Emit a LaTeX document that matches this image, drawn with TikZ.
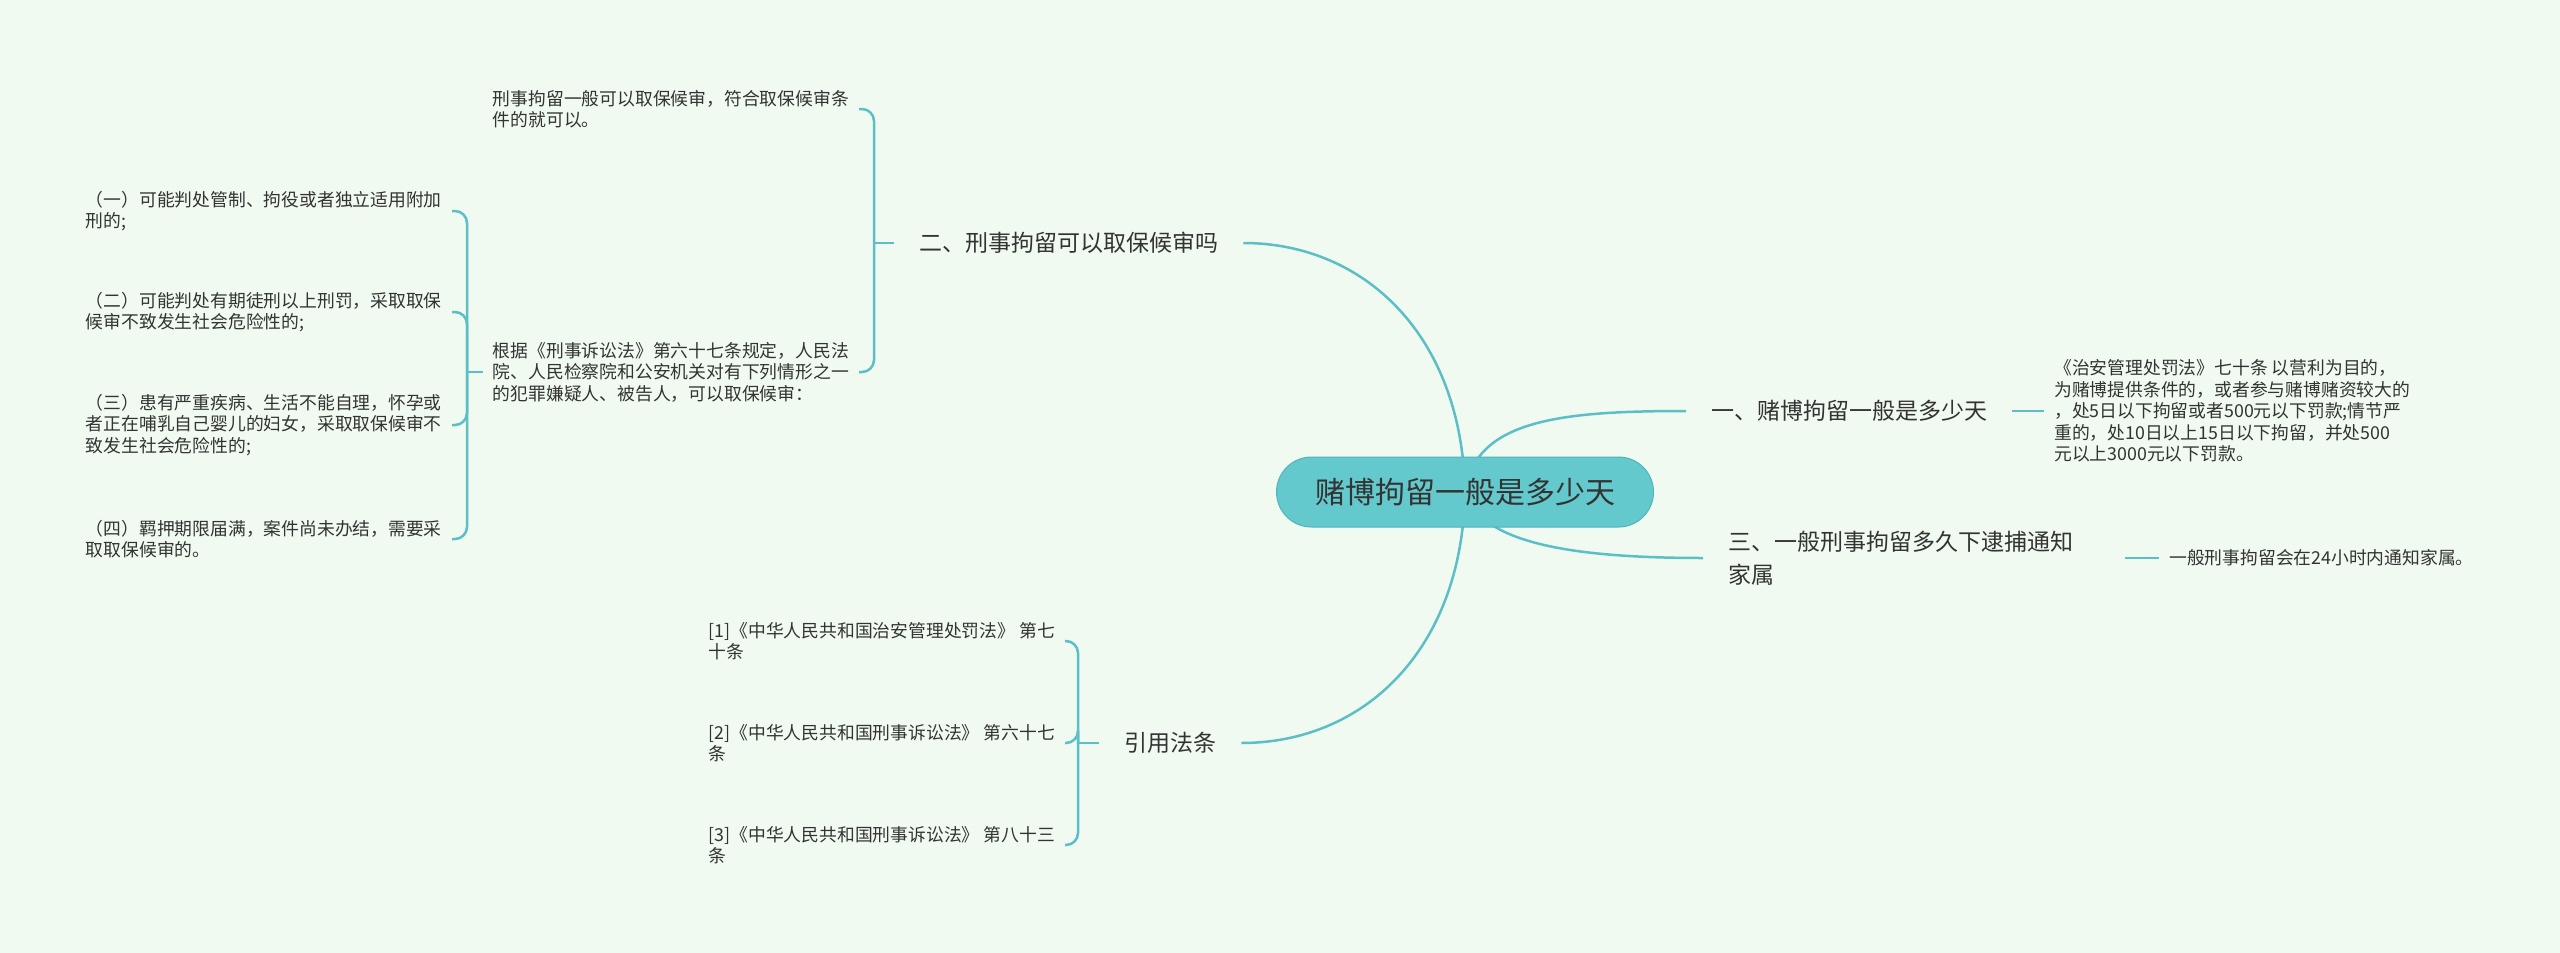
\documentclass[tikz,border=0pt]{standalone}
\usepackage{fontspec}
\setmainfont{Noto Sans CJK SC}
\definecolor{bgcol}{HTML}{F0FAF1}
\definecolor{linecol}{HTML}{5CBFC6}
\definecolor{rootfill}{HTML}{63C9CD}
\definecolor{rootdraw}{HTML}{50B5BA}
\definecolor{txtcol}{HTML}{333333}
\tikzset{
  rootnode/.style={fill=rootfill, draw=rootdraw, line width=1pt, rounded corners=35pt,
    minimum width=377pt, minimum height=70pt, font=\fontsize{30}{36}\selectfont, text=txtcol},
  topic/.style={inner xsep=25pt, inner ysep=4pt, font=\fontsize{23}{33}\selectfont, text=txtcol, align=left},
  leaf/.style={inner xsep=10pt, inner ysep=3pt, font=\fontsize{17.8}{21.5}\selectfont, text=txtcol, align=left},
  link/.style={draw=linecol, line width=2.5pt},
  bracket/.style={link, rounded corners=12pt},
}
\begin{document}
\begin{tikzpicture}[x=1pt, y=-1pt]
    \fill[bgcol] (0,0) rectangle (2560,953);
    \useasboundingbox (0,0) rectangle (2560,953);
    \coordinate (rootc) at (1465,492);
    % main topics
    \node[topic, anchor=west] (b2) at (894,243) {二、刑事拘留可以取保候审吗};
    \node[topic, anchor=west] (b1) at (1686,411) {一、赌博拘留一般是多少天};
    \node[topic, anchor=west, text width=372pt] (b3) at (1703,558) {三、一般刑事拘留多久下逮捕通知\\家属};
    \node[topic, anchor=west] (b4) at (1099,743) {引用法条};
    % leaves of topic one and three
    \node[leaf, anchor=west] (b1c) at (2044,411) {《治安管理处罚法》七十条 以营利为目的，\\为赌博提供条件的，或者参与赌博赌资较大的\\，处5日以下拘留或者500元以下罚款;情节严\\重的，处10日以上15日以下拘留，并处500\\元以上3000元以下罚款。};
    \node[leaf, anchor=west] (b3c) at (2159,558) {一般刑事拘留会在24小时内通知家属。};
    % leaves of topic two
    \node[leaf, anchor=east] (b2a) at (859,109) {刑事拘留一般可以取保候审，符合取保候审条\\件的就可以。};
    \node[leaf, anchor=east] (b2b) at (859,372) {根据《刑事诉讼法》第六十七条规定，人民法\\院、人民检察院和公安机关对有下列情形之一\\的犯罪嫌疑人、被告人，可以取保候审：};
    \node[leaf, anchor=east] (b2b1) at (452,211) {（一）可能判处管制、拘役或者独立适用附加\\刑的;};
    \node[leaf, anchor=east] (b2b2) at (452,312) {（二）可能判处有期徒刑以上刑罚，采取取保\\候审不致发生社会危险性的;};
    \node[leaf, anchor=east] (b2b3) at (452,425) {（三）患有严重疾病、生活不能自理，怀孕或\\者正在哺乳自己婴儿的妇女，采取取保候审不\\致发生社会危险性的;};
    \node[leaf, anchor=east] (b2b4) at (452,539) {（四）羁押期限届满，案件尚未办结，需要采\\取取保候审的。};
    % cited laws
    \node[leaf, anchor=east] (b4a) at (1065,641) {[1]《中华人民共和国治安管理处罚法》 第七\\十条};
    \node[leaf, anchor=east] (b4b) at (1065,743) {[2]《中华人民共和国刑事诉讼法》 第六十七\\条};
    \node[leaf, anchor=east] (b4c) at (1065,845) {[3]《中华人民共和国刑事诉讼法》 第八十三\\条};
    % junctions
    \coordinate (j2) at (874,243);
    \coordinate (j2b) at (467,372);
    \coordinate (j4) at (1078,743);
    % curves from the root
    \draw[link] (rootc) .. controls (1462,335) and (1364,243) .. (b2.east);
    \draw[link] (rootc) .. controls (1475,420) and (1560,411) .. (b1.west);
    \draw[link] (rootc) .. controls (1480,540) and (1560,558) .. (b3.west);
    \draw[link] (rootc) .. controls (1462,650) and (1364,743) .. (b4.east);
    % brackets
    \draw[link] (b2.west) -- (j2);
    \draw[bracket] (j2) |- (b2a.east);
    \draw[bracket] (j2) |- (b2b.east);
    \draw[link] (b2b.west) -- (j2b);
    \foreach \i in {1,...,4}
        \draw[bracket] (j2b) |- (b2b\i.east);
    \draw[link] (b4.west) -- (j4);
    \foreach \i in {a,b,c}
        \draw[bracket] (j4) |- (b4\i.east);
    \draw[link] (b1.east) -- (b1c.west);
    \draw[link] (b3.east) -- (b3c.west);
    % root on top
    \node[rootnode] (root) at (rootc) {赌博拘留一般是多少天};
\end{tikzpicture}
\end{document}
